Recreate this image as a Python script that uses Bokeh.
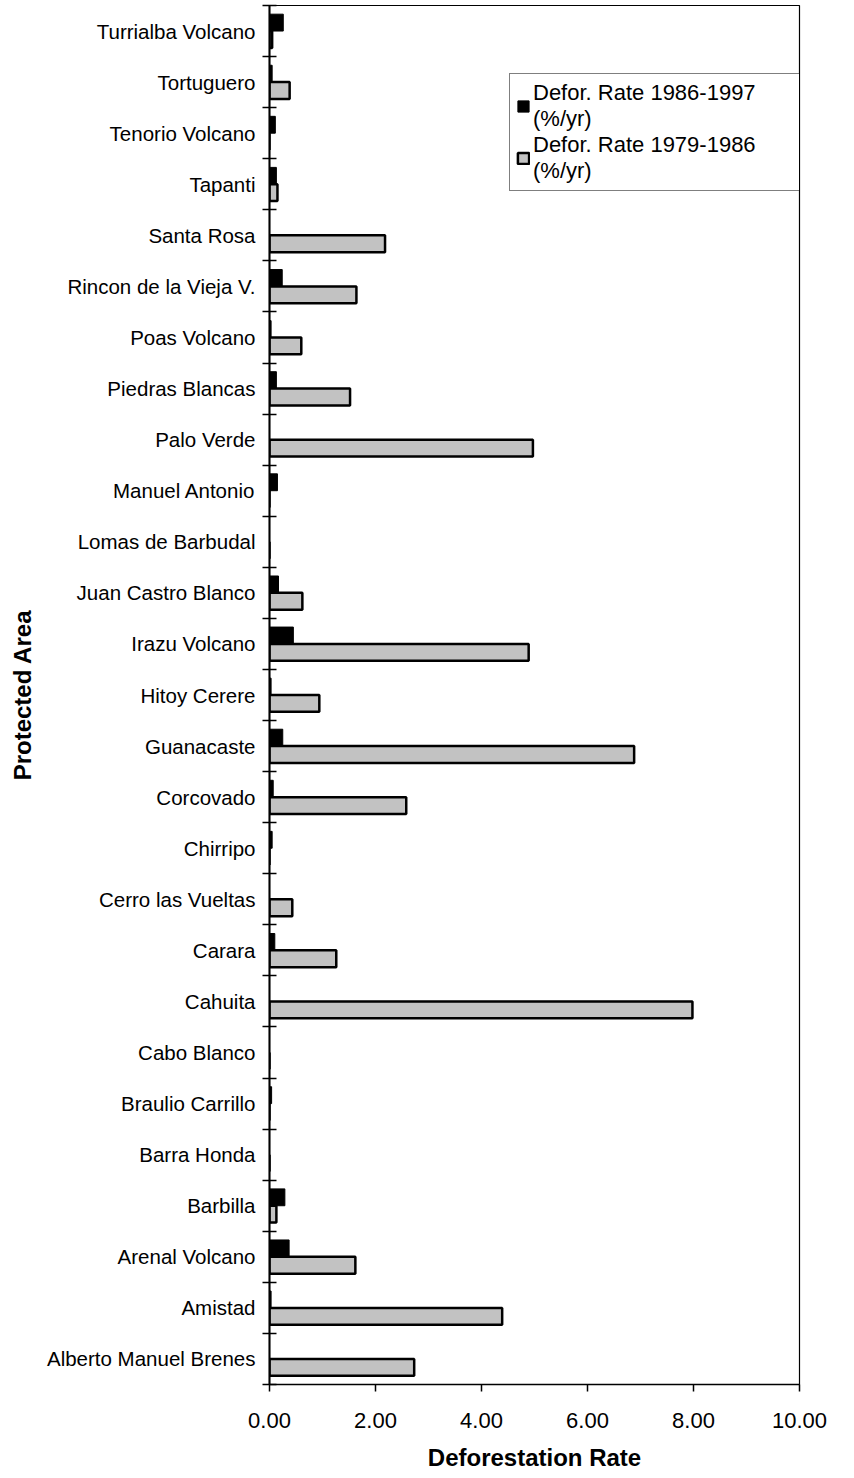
from bokeh.plotting import figure
from bokeh.models import (FactorRange, Range1d, LinearAxis, FixedTicker, NumeralTickFormatter,
                          Legend, LegendItem, ColumnDataSource)
from bokeh.transform import dodge
from bokeh.embed import file_html
from bokeh.resources import INLINE

# ---- data (top to bottom as shown) ----
areas = ["Turrialba Volcano", "Tortuguero", "Tenorio Volcano", "Tapanti", "Santa Rosa",
         "Rincon de la Vieja V.", "Poas Volcano", "Piedras Blancas", "Palo Verde",
         "Manuel Antonio", "Lomas de Barbudal", "Juan Castro Blanco", "Irazu Volcano",
         "Hitoy Cerere", "Guanacaste", "Corcovado", "Chirripo", "Cerro las Vueltas",
         "Carara", "Cahuita", "Cabo Blanco", "Braulio Carrillo", "Barra Honda", "Barbilla",
         "Arenal Volcano", "Amistad", "Alberto Manuel Brenes"]
rate_1986_1997 = [0.26, 0.05, 0.11, 0.13, 0.0, 0.24, 0.03, 0.13, 0.0, 0.15, 0.0, 0.17, 0.45,
                  0.03, 0.25, 0.07, 0.05, 0.0, 0.10, 0.0, 0.0, 0.04, 0.0, 0.29, 0.37, 0.03, 0.0]
rate_1979_1986 = [0.05, 0.38, 0.0, 0.15, 2.18, 1.64, 0.60, 1.52, 4.97, 0.0, 0.0, 0.62, 4.89,
                  0.94, 6.88, 2.58, 0.0, 0.43, 1.26, 7.98, 0.0, 0.0, 0.0, 0.13, 1.62, 4.39, 2.73]
x_ticks = [0, 2, 4, 6, 8, 10]
series_labels = ["Defor. Rate 1986-1997\n(%/yr)", "Defor. Rate 1979-1986\n(%/yr)"]

FONT = "Liberation Sans"
factors = areas[::-1]

p = figure(width=854, height=1478, output_backend="svg", toolbar_location=None,
           y_range=FactorRange(factors=factors), x_range=Range1d(0, 10),
           y_axis_location=None, min_border_left=269, min_border_right=55,
           min_border_top=5, min_border_bottom=94)
p.xgrid.visible = False
p.ygrid.visible = False
p.outline_line_color = "black"
p.outline_line_width = 1.2
p.background_fill_color = "white"
p.border_fill_color = "white"

src = ColumnDataSource(dict(area=areas, a=rate_1986_1997, b=rate_1979_1986))
r1 = p.hbar(y=dodge("area", 0.165, range=p.y_range), left=0, right="a", height=0.33,
            fill_color="black", line_color="black", line_width=1, source=src)
r2 = p.hbar(y=dodge("area", -0.165, range=p.y_range), left=0, right="b", height=0.33,
            fill_color="#c2c2c2", line_color="black", line_width=2.5, source=src)

# y axis: labels at category centres, tick marks at category boundaries
centres = [i + 0.5 for i in range(len(factors))]
yaxis = LinearAxis(ticker=FixedTicker(ticks=centres, minor_ticks=list(range(len(factors) + 1))),
                   major_label_overrides={c: f for c, f in zip(centres, factors)},
                   major_tick_in=0, major_tick_out=0, minor_tick_in=7, minor_tick_out=7,
                   minor_tick_line_color="black", minor_tick_line_width=1.5,
                   axis_line_color="black", axis_line_width=2,
                   major_label_standoff=7,
                   major_label_text_font=FONT, major_label_text_font_size="20.5px",
                   major_label_text_color="black",
                   axis_label="Protected Area", axis_label_standoff=8,
                   axis_label_text_font=FONT, axis_label_text_font_size="24px",
                   axis_label_text_font_style="bold", axis_label_text_color="black")
p.add_layout(yaxis, "left")

xa = p.xaxis[0]
xa.ticker = FixedTicker(ticks=x_ticks)
xa.formatter = NumeralTickFormatter(format="0.00")
xa.major_tick_in = 0
xa.major_tick_out = 7
xa.minor_tick_line_color = None
xa.major_tick_line_color = "black"
xa.major_tick_line_width = 1.5
xa.axis_line_color = "black"
xa.axis_line_width = 1.5
xa.major_label_standoff = 21
xa.major_label_text_font = FONT
xa.major_label_text_font_size = "22px"
xa.major_label_text_color = "black"
xa.axis_label = "Deforestation Rate"
xa.axis_label_standoff = 13
xa.axis_label_text_font = FONT
xa.axis_label_text_font_size = "24px"
xa.axis_label_text_font_style = "bold"
xa.axis_label_text_color = "black"

legend = Legend(items=[LegendItem(label=series_labels[0], renderers=[r1]),
                       LegendItem(label=series_labels[1], renderers=[r2])],
                location=(240, 1193), orientation="vertical",
                border_line_color="black", border_line_width=1,
                background_fill_color="white", background_fill_alpha=1,
                label_text_font=FONT, label_text_font_size="22px", label_text_color="black",
                label_width=330,
                label_standoff=3, glyph_width=14, glyph_height=14,
                padding=6, spacing=0, margin=0)
p.add_layout(legend, "center")

open("out.html", "w").write(file_html(p, INLINE))
